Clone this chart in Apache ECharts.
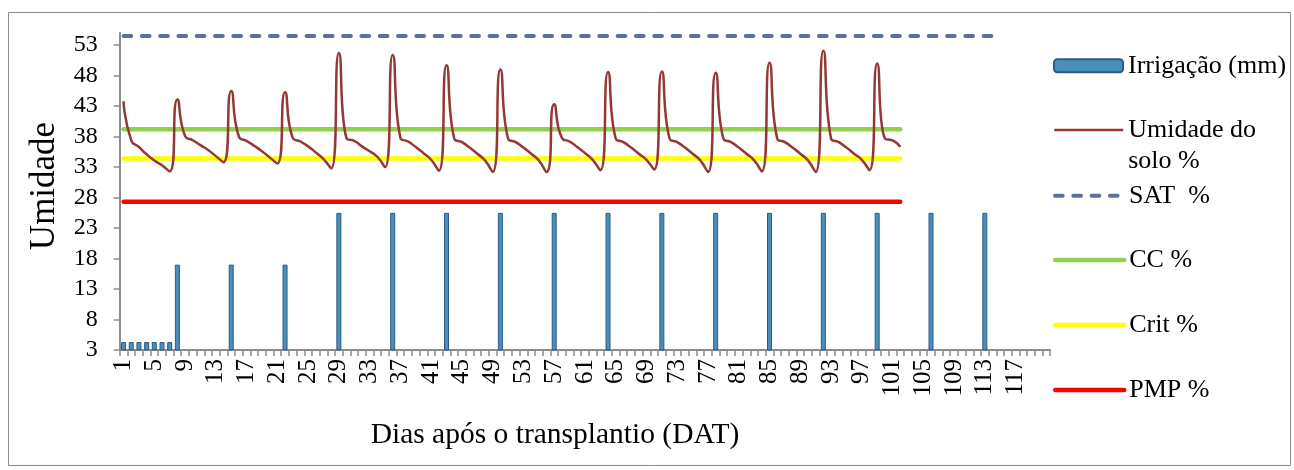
<!DOCTYPE html>
<html>
<head>
<meta charset="utf-8">
<script src="https://cdn.jsdelivr.net/npm/echarts@6/dist/echarts.min.js"></script>
<style>
html,body{margin:0;padding:0;background:#fff;}
#chart{width:1294px;height:470px;}
</style>
</head>
<body>
<div id="chart"></div>
<script>
// ---- data ----
const dayCount = 121;
const days = [];
for (let d = 1; d <= dayCount; d++) days.push(String(d));

const irrigationDays = [1,2,3,4,5,6,7,8,15,22,29,36,43,50,57,64,71,78,85,92,99,106,113];
const irrigationMm   = [4.3,4.3,4.3,4.3,4.3,4.3,4.3,17,17,17,25.5,25.5,25.5,25.5,25.5,25.5,25.5,25.5,25.5,25.5,25.5,25.5,25.5];

const soilMoisture = [
  43.8,37.4,36.3,35.1,34.1,33.3,32.3,
  44.1,38.1,37.4,36.6,35.8,34.8,33.8,
  45.5,38.0,37.3,36.5,35.6,34.6,33.6,
  45.3,37.8,37.2,36.4,35.4,34.3,32.8,
  51.7,37.7,37.3,36.4,35.6,34.7,33.0,
  51.4,37.8,37.2,36.3,35.3,34.2,32.4,
  49.7,37.7,37.1,36.2,35.2,34.1,32.2,
  49.0,37.7,37.1,36.2,35.2,34.1,32.2,
  43.3,37.8,37.2,36.3,35.3,34.2,32.5,
  48.6,37.7,37.1,36.2,35.2,34.2,32.6,
  48.7,37.7,37.1,36.2,35.2,34.1,32.2,
  48.5,37.7,37.1,36.2,35.2,34.1,32.3,
  50.1,37.7,37.1,36.2,35.2,34.1,32.2,
  52.1,37.7,37.1,36.2,35.2,34.2,32.5,
  50.0,37.7,37.4,36.3
];

const satValue = 54.5, satFrom = '1', satTo = '114';
const ccValue = 39.2, critValue = 34.4, pmpValue = 27.3;
const refFrom = '1', refTo = '102';

const yMin = 3, yMax = 55, yStep = 5;

const seriesNames = ['Irrigação (mm)', 'Umidade do solo %', 'SAT  %', 'CC %', 'Crit %', 'PMP %'];

// ---- chart ----
const FONT = '"Liberation Serif", "Times New Roman", serif';
const chart = echarts.init(document.getElementById('chart'), null, {renderer: 'canvas'});

const gridLeft = 119.7, gridTop = 33, gridRight = 1050.2, gridBottom = 350;

function legendItem(name, centerY, lineWidth, formatter) {
  const isLine = lineWidth > 0;
  const lg = {
    data: [name],
    orient: 'vertical',
    left: 1053,
    top: centerY - (formatter ? 46.5 : 15.5),
    padding: 0,
    itemWidth: 69,
    itemHeight: isLine ? 2 : 13,
    itemGap: 0,
    selectedMode: false,
    textStyle: {fontFamily: FONT, fontSize: 26, color: '#000', lineHeight: 31}
  };
  if (isLine) {
    lg.itemStyle = {opacity: 0};
    lg.lineStyle = {width: lineWidth};
  }
  if (formatter) lg.formatter = formatter;
  return lg;
}

const legends = [
  legendItem(seriesNames[0], 65.7, 0),
  legendItem(seriesNames[1], 130, 2.5, function () { return '\nUmidade do\nsolo %'; }),
  legendItem(seriesNames[2], 195.7, 4),
  legendItem(seriesNames[3], 260, 4.5),
  legendItem(seriesNames[4], 325, 4.5),
  legendItem(seriesNames[5], 390, 4.5)
];

const option = {
  backgroundColor: '#fff',
  animation: false,
  grid: {left: gridLeft, top: gridTop, width: gridRight - gridLeft, height: gridBottom - gridTop, containLabel: false},
  legend: legends,
  xAxis: {
    type: 'category',
    data: days,
    boundaryGap: true,
    axisLine: {lineStyle: {color: '#8c8c8c', width: 2}},
    axisTick: {show: true, interval: 0, length: 6, lineStyle: {color: '#8c8c8c', width: 1.5}},
    axisLabel: {
      interval: function (index) { return index % 4 === 0 && index < 120; },
      rotate: 90,
      margin: 9,
      fontFamily: FONT, fontSize: 25, color: '#000'
    },
    splitLine: {show: false}
  },
  yAxis: {
    type: 'value',
    min: yMin, max: yMax, interval: yStep,
    axisLine: {show: true, lineStyle: {color: '#8c8c8c', width: 2}},
    axisTick: {show: true, length: 6, lineStyle: {color: '#8c8c8c', width: 1.5}},
    axisLabel: {showMaxLabel: false, margin: 22, fontFamily: FONT, fontSize: 24, color: '#000'},
    splitLine: {show: false}
  },
  graphic: [
    {type: 'rect', shape: {x: 8.5, y: 12.5, width: 1282, height: 453}, style: {fill: 'none', stroke: '#8a8a8a', lineWidth: 1}, silent: true, z: -1},
    {type: 'text', x: 45, y: 186, rotation: Math.PI / 2, style: {text: 'Umidade', font: '35px ' + FONT, fill: '#000', textAlign: 'center', textVerticalAlign: 'middle'}},
    {type: 'text', x: 555, y: 435, style: {text: 'Dias após o transplantio (DAT)', font: '29.5px ' + FONT, fill: '#000', textAlign: 'center', textVerticalAlign: 'middle'}}
  ],
  series: [
    {
      name: seriesNames[0], type: 'bar', barWidth: 5,
      data: irrigationDays.map((d, i) => [String(d), irrigationMm[i]]),
      itemStyle: {color: '#4A8FB8', borderColor: '#2B5A8A', borderWidth: 1},
      z: 2
    },
    {
      name: seriesNames[1], type: 'line', data: soilMoisture, smooth: 0.6,
      symbol: 'none', lineStyle: {color: '#953735', width: 2.5}, itemStyle: {color: '#953735'}, z: 5
    },
    {
      name: seriesNames[2], type: 'line', data: [[satFrom, satValue], [satTo, satValue]],
      symbol: 'none', lineStyle: {color: '#5A71A0', width: 4, type: [7.7, 10.6], cap: 'round'}, itemStyle: {color: '#5A71A0'}, z: 4
    },
    {
      name: seriesNames[3], type: 'line', data: [[refFrom, ccValue], [refTo, ccValue]],
      symbol: 'none', lineStyle: {color: '#92D050', width: 4.5, cap: 'round'}, itemStyle: {color: '#92D050'}, z: 3
    },
    {
      name: seriesNames[4], type: 'line', data: [[refFrom, critValue], [refTo, critValue]],
      symbol: 'none', lineStyle: {color: '#FFFF00', width: 4.5, cap: 'round'}, itemStyle: {color: '#FFFF00'}, z: 3
    },
    {
      name: seriesNames[5], type: 'line', data: [[refFrom, pmpValue], [refTo, pmpValue]],
      symbol: 'none', lineStyle: {color: '#FF0000', width: 4.5, cap: 'round'}, itemStyle: {color: '#FF0000'}, z: 3
    }
  ]
};
chart.setOption(option);
</script>
</body>
</html>
